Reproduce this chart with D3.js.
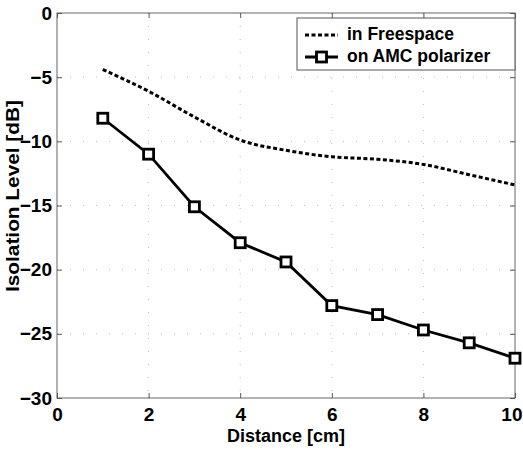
<!DOCTYPE html>
<html>
<head>
<meta charset="utf-8">
<script src="https://cdn.jsdelivr.net/npm/d3@7"></script>
<style>
  body { margin: 0; background: #fff; }
  svg text { font-family: "Liberation Sans", Arial, sans-serif; font-weight: bold; fill: #000; }
</style>
</head>
<body>
<div id="chart"></div>
<script>
const distance = [1, 2, 3, 4, 5, 6, 7, 8, 9, 10];
const freespace = [-4.4, -6.1, -8.1, -9.9, -10.7, -11.2, -11.4, -11.8, -12.6, -13.4];
const amc = [-8.2, -11.0, -15.1, -17.9, -19.4, -22.8, -23.5, -24.7, -25.7, -26.9];
const xTicks = [0, 2, 4, 6, 8, 10];
const yTicks = [0, -5, -10, -15, -20, -25, -30];
const seriesNames = ['in Freespace', 'on AMC polarizer'];

const margin = { top: 13, right: 8, bottom: 52, left: 57 },
  width = 523 - margin.left - margin.right,
  height = 450 - margin.top - margin.bottom;

const svg = d3.select('#chart').append('svg')
  .attr('width', 523)
  .attr('height', 450);

const g = svg.append('g')
  .attr('transform', 'translate(' + margin.left + ',' + margin.top + ')');

const x = d3.scaleLinear().domain([0, 10]).range([0, width]);
const y = d3.scaleLinear().domain([-30, 0]).range([height, 0]);

// grid
g.append('g').selectAll('line')
  .data(xTicks.slice(1, -1))
  .enter().append('line')
  .attr('x1', d => x(d)).attr('x2', d => x(d))
  .attr('y1', 0).attr('y2', height)
  .attr('stroke', '#bbb').attr('stroke-width', 1)
  .attr('stroke-dasharray', '1,12');
g.append('g').selectAll('line')
  .data(yTicks.slice(1, -1))
  .enter().append('line')
  .attr('y1', d => y(d)).attr('y2', d => y(d))
  .attr('x1', 0).attr('x2', width)
  .attr('stroke', '#bbb').attr('stroke-width', 1)
  .attr('stroke-dasharray', '1,12');

// frame
g.append('rect')
  .attr('width', width).attr('height', height)
  .attr('fill', 'none').attr('stroke', '#666').attr('stroke-width', 1);

// axes (ticks point inward, also mirrored on top / right)
const xAxis = g.append('g')
  .attr('transform', 'translate(0,' + height + ')')
  .call(d3.axisBottom(x).tickValues(xTicks).tickSizeInner(-5).tickSizeOuter(0).tickPadding(12));
const yAxis = g.append('g')
  .call(d3.axisLeft(y).tickValues(yTicks).tickSizeInner(-5).tickSizeOuter(0).tickPadding(5));
const xTop = g.append('g')
  .call(d3.axisTop(x).tickValues(xTicks).tickSizeInner(-5).tickSizeOuter(0).tickFormat(''));
const yRight = g.append('g')
  .attr('transform', 'translate(' + width + ',0)')
  .call(d3.axisRight(y).tickValues(yTicks).tickSizeInner(-5).tickSizeOuter(0).tickFormat(''));
[xAxis, yAxis, xTop, yRight].forEach(a => {
  a.select('.domain').remove();
  a.selectAll('line').attr('stroke', '#555');
  a.selectAll('text').attr('font-size', 19).attr('font-family', '"Liberation Sans", Arial, sans-serif').attr('font-weight', 'bold');
});
xAxis.selectAll('text').attr('dy', '0.6em');
// keep the last label inside the page
xAxis.selectAll('.tick').filter(d => d === 10).select('text')
  .attr('text-anchor', 'end').attr('x', 7);

// axis labels
svg.append('text')
  .attr('x', margin.left + width / 2).attr('y', 442)
  .attr('text-anchor', 'middle').attr('font-size', 18)
  .text('Distance [cm]');
svg.append('text')
  .attr('transform', 'translate(19,' + 196 + ') rotate(-90)')
  .attr('text-anchor', 'middle').attr('font-size', 18)
  .attr('textLength', 192).attr('lengthAdjust', 'spacingAndGlyphs')
  .text('Isolation Level [dB]');

const line = d3.line()
  .x((d, i) => x(distance[i]))
  .y(d => y(d));

// free space dashed curve
g.append('path')
  .datum(freespace)
  .attr('fill', 'none').attr('stroke', '#000').attr('stroke-width', 3)
  .attr('stroke-dasharray', '4,2.5')
  .attr('d', line.curve(d3.curveMonotoneX));

// AMC solid line with squares
g.append('path')
  .datum(amc)
  .attr('fill', 'none').attr('stroke', '#000').attr('stroke-width', 2.8)
  .attr('d', d3.line().x((d, i) => x(distance[i])).y(d => y(d)));
g.append('g').selectAll('rect')
  .data(amc)
  .enter().append('rect')
  .attr('x', (d, i) => x(distance[i]) - 5)
  .attr('y', d => y(d) - 5)
  .attr('width', 10).attr('height', 10)
  .attr('fill', '#fff').attr('stroke', '#000').attr('stroke-width', 2.8);

// legend
const leg = svg.append('g').attr('transform', 'translate(297,18)');
leg.append('rect')
  .attr('width', 218).attr('height', 52)
  .attr('fill', '#fff').attr('stroke', '#555').attr('stroke-width', 1);
leg.append('line')
  .attr('x1', 8).attr('x2', 41).attr('y1', 17).attr('y2', 17)
  .attr('stroke', '#000').attr('stroke-width', 3).attr('stroke-dasharray', '4,2.5');
leg.append('line')
  .attr('x1', 8).attr('x2', 41).attr('y1', 39).attr('y2', 39)
  .attr('stroke', '#000').attr('stroke-width', 2.8);
leg.append('rect')
  .attr('x', 19.5).attr('y', 34).attr('width', 10).attr('height', 10)
  .attr('fill', '#fff').attr('stroke', '#000').attr('stroke-width', 2.8);
leg.selectAll('text.lbl')
  .data(seriesNames)
  .enter().append('text')
  .attr('class', 'lbl')
  .attr('x', 50).attr('y', (d, i) => 22 + i * 22)
  .attr('font-size', 17.5)
  .text(d => d);
</script>
</body>
</html>
